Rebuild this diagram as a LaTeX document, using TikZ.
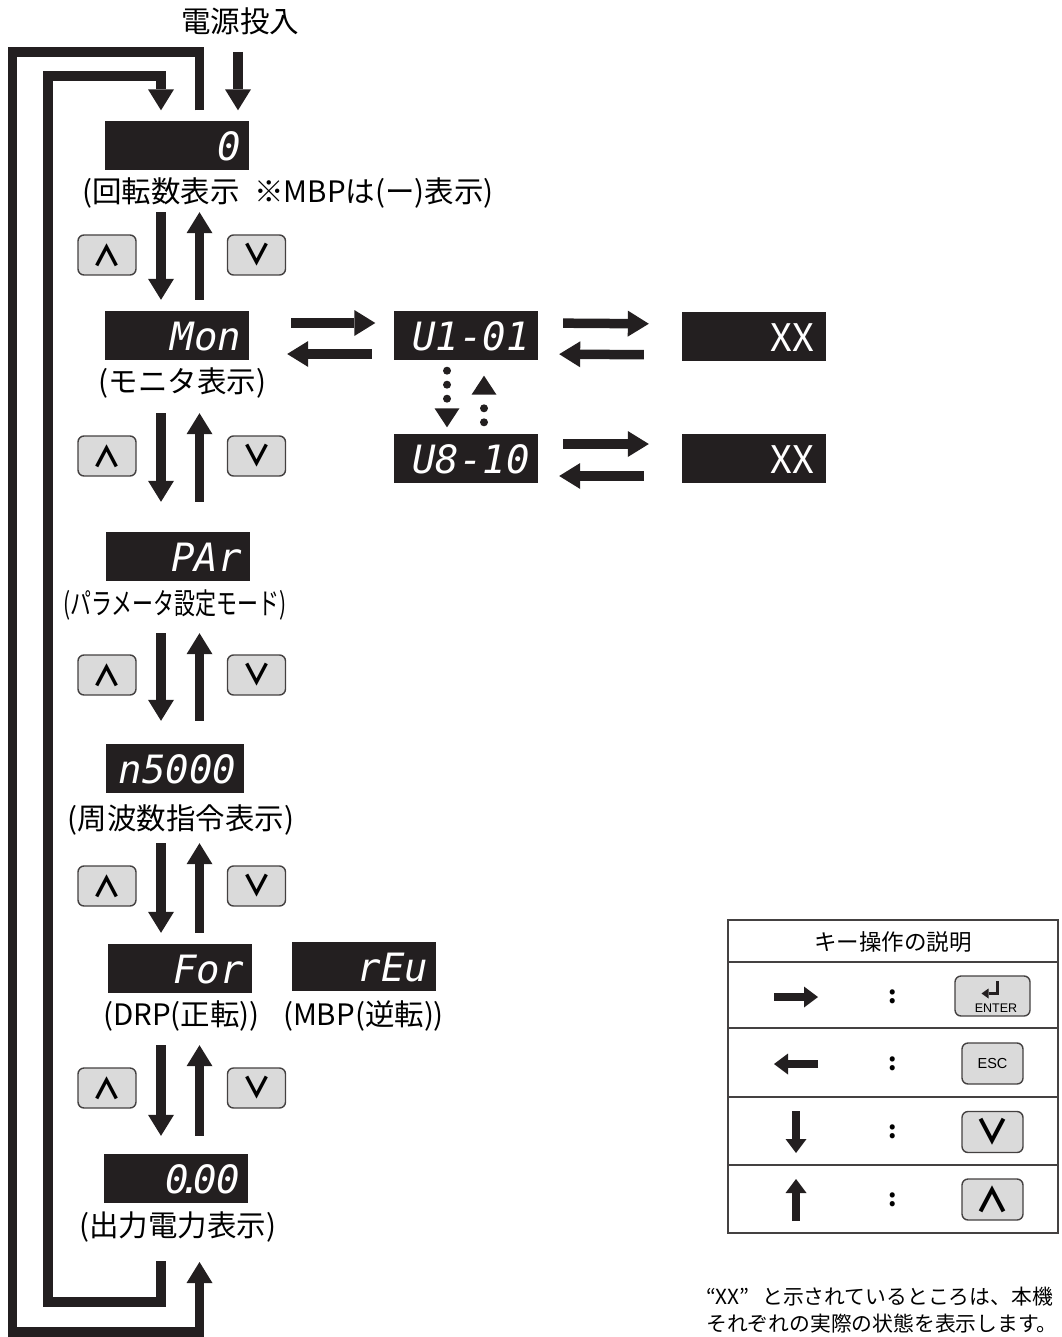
\documentclass[tikz,border=0pt]{standalone}
\usepackage{graphicx}
\usepackage{fontspec}
\setmainfont{Noto Sans CJK JP}
\newfontfamily\segfont{DejaVu Sans Mono}
\newfontfamily\keyfont{Liberation Sans}
\usetikzlibrary{arrows.meta,calc}
\definecolor{ink}{RGB}{35,31,32}
\definecolor{keygray}{RGB}{218,218,218}

\begin{document}
\begin{tikzpicture}[x=1pt,y=-1pt,
  blk/.style={draw=ink,line width=9.5pt,-{Triangle[length=21pt,width=26pt,line width=0pt]}},
  kblk/.style={draw=ink,line width=8.5pt,-{Triangle[length=14pt,width=21pt,line width=0pt]}},
  dotarr/.style={draw=ink,line width=8pt,line cap=round,dash pattern=on 0pt off 14pt,
    -{Triangle[length=19pt,width=25pt,line width=0pt]}},
  disp/.style={fill=ink,text=white,minimum height=49pt,text width=128pt,inner xsep=8pt,
    inner ysep=0pt,align=right,text height=30pt,text depth=0pt,
    font=\segfont\itshape\fontsize{39}{39}\selectfont},
  xbox/.style={disp,inner xsep=12pt,text width=120pt,font=\fontsize{38}{38}\selectfont},
  lab/.style={inner sep=0pt,font=\fontsize{29.5}{30}\selectfont},
  key/.style={draw=ink!85,fill=keygray,line width=1.4pt,rounded corners=6pt,
    minimum width=58pt,minimum height=40pt,inner sep=0pt,font=\fontsize{29}{29}\bfseries\selectfont},
  lkey/.style={key,minimum width=61pt,minimum height=41pt,font=\fontsize{34}{34}\bfseries\selectfont},
  tbl/.style={draw=ink!85,line width=2pt}]
\useasboundingbox (0,0) rectangle (1061,1337);

\coordinate (dn) at (161,0);
\coordinate (up) at (199.5,0);

\node[lab] (title) at (240,21) {電源投入};

\node[disp] (d0) at (177,146) {0};
\node[lab,anchor=west] (lab0) at (82,193) {(回転数表示\enspace※MBPは(ー)表示)};
\node[disp] (dMon) at (177,335) {Mon};
\node[lab] (labMon) at (182.5,383) {(モニタ表示)};
\node[disp] (dPar) at (177.5,556) {PAr};
\node[lab] (labPar) at (175,605) {\scalebox{0.71}[1]{(パラメータ設定モード)}};
\node[disp,text width=122pt] (dN) at (175,768) {n5000};
\node[lab] (labN) at (181,820) {(周波数指令表示)};
\node[disp] (dFor) at (179.5,968) {For};
\node[lab] (labFor) at (181.5,1016) {(DRP(正転))};
\node[disp] (dRev) at (364,966.5) {rEu};
\node[lab] (labRev) at (363.5,1016) {(MBP(逆転))};
\node[disp] (dOut) at (176,1178) {0\kern-.25em.\kern-.25em00};
\node[lab] (labOut) at (177.5,1227) {(出力電力表示)};

\node[disp] (dU1) at (465.5,335) {U1-01};
\node[disp] (dU8) at (465.5,458) {U8-10};
\node[xbox] (dX1) at (754,336) {XX};
\node[xbox] (dX2) at (754,458) {XX};

% power on and the two loops
\coordinate (pw) at (238,52);
\draw[blk,shorten >=11pt] (pw) -- (d0.north -| pw);
\coordinate (oTL) at (12.5,52);
\coordinate (oBR) at (199.5,1332);
\coordinate (oTip) at (199.5,1262);
\draw[blk,shorten <=11pt] (d0.north -| up) |- (oTL) |- (oBR) -- (oTip);
\coordinate (iStart) at (161,1261);
\coordinate (iBL) at (48,1302);
\coordinate (iTR) at (161,76);
\draw[blk,shorten >=11pt] (iStart) |- (iBL) |- (iTR) -- (d0.north -| dn);

\foreach \a/\b/\st/\sb/\ky in {d0/dMon/41.5/10.5/255,dMon/dPar/53.5/29.5/456,
    dPar/dN/52.5/22.5/675,dN/dFor/50.5/10.5/886,dFor/dOut/52.5/17.5/1088}{
  \draw[blk,shorten <=\st pt,shorten >=\sb pt] (\a.south -| dn) -- (\b.north -| dn);
  \draw[blk,shorten <=\sb pt,shorten >=\st pt] (\b.north -| up) -- (\a.south -| up);
  \node[key] (hat-\a) at (107,\ky) {∧};
  \node[key] (vee-\a) at (256.5,\ky) {∨};
}

\draw[blk,shorten <=42pt,shorten >=18pt] ($(dMon.east)+(0,-12)$) -- ($(dU1.west)+(0,-12)$);
\draw[blk,shorten <=21.5pt,shorten >=38pt] ($(dU1.west)+(0,19)$) -- ($(dMon.east)+(0,19)$);
\draw[blk,shorten <=25.5pt,shorten >=33pt] ($(dU1.east)+(0,-12)$) -- ($(dX1.west)+(0,-12)$);
\draw[blk,shorten <=38pt,shorten >=21.5pt] ($(dX1.west)+(0,19)$) -- ($(dU1.east)+(0,19)$);
\draw[blk,shorten <=25.5pt,shorten >=33pt] ($(dU8.east)+(0,-14)$) -- ($(dX2.west)+(0,-14)$);
\draw[blk,shorten <=38pt,shorten >=21.5pt] ($(dX2.west)+(0,18)$) -- ($(dU8.east)+(0,18)$);

\coordinate (dd) at (447,0);
\coordinate (du) at (484,0);
\draw[dotarr,shorten <=11pt,shorten >=6pt] (dU1.south -| dd) -- (dU8.north -| dd);
\draw[dotarr,shorten <=11pt,shorten >=16pt] (dU8.north -| du) -- (dU1.south -| du);

% key legend
\draw[tbl] (728,920) rectangle (1058,1233);
\foreach \yy in {962,1028,1097,1165} \draw[tbl] (728,\yy) -- (1058,\yy);
\node[lab,font=\fontsize{22.5}{23}\selectfont] (khead) at (893,942) {キー操作の説明};
\foreach \yy/\n in {997/1,1064/2,1132/3,1200/4}
  \node[inner sep=0pt,font=\fontsize{24}{24}\bfseries\selectfont] (col\n) at (893,\yy) {:};
\draw[kblk] ([xshift=-119pt]col1.center) -- ([xshift=-75pt]col1.center);
\draw[kblk] ([xshift=-75pt]col2.center) -- ([xshift=-119pt]col2.center);
\draw[kblk] ([xshift=-97pt,yshift=21pt]col3.center) -- ([xshift=-97pt,yshift=-21pt]col3.center);
\draw[kblk] ([xshift=-97pt,yshift=-21pt]col4.center) -- ([xshift=-97pt,yshift=21pt]col4.center);

\node[lkey,minimum width=75pt,minimum height=40pt] (kent) at (992.5,996) {};
\node[inner sep=0pt,font=\keyfont\fontsize{12.5}{12.5}\selectfont] (kentt) at (996,1008) {ENTER};
\draw[draw=ink,line width=3pt,-{Triangle[length=7pt,width=10pt,line width=0pt]}]
  ($(kent.center)+(5,-15)$) |- ($(kent.center)+(-11,-2.5)$);
\node[lkey,font=\keyfont\fontsize{14.5}{14.5}\selectfont] (kesc) at (992.5,1063.5) {ESC};
\node[lkey] (kvee) at (992.5,1132) {∨};
\node[lkey] (khat) at (992.5,1199.5) {∧};

\node[anchor=west,inner sep=0pt,font=\fontsize{20.8}{21}\selectfont] (note1) at (706,1297)
  {“XX”\hspace{0.4em} と示されているところは、本機};
\node[anchor=west,inner sep=0pt,font=\fontsize{20.8}{21}\selectfont] (note2) at (706,1324)
  {それぞれの実際の状態を表示します。};
\end{tikzpicture}
\end{document}
